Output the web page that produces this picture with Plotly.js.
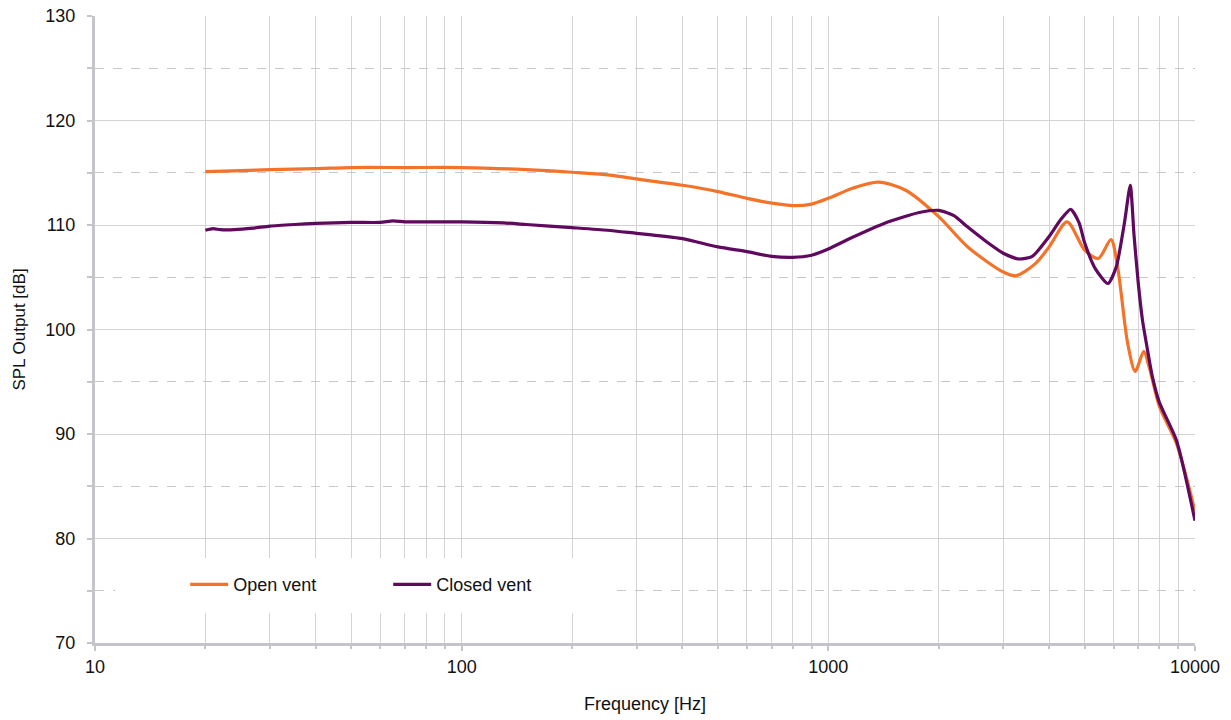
<!DOCTYPE html>
<html>
<head>
<meta charset="utf-8">
<script src="https://cdn.plot.ly/plotly-3.0.1.min.js"></script>
<style>
  html, body { margin: 0; padding: 0; background: #ffffff; }
  #chart { width: 1231px; height: 720px; }
</style>
</head>
<body>
<div id="chart"></div>
<script>
// Open vent
const openFreq = [20, 25, 30, 40, 50, 70, 100, 150, 200, 250, 330, 400, 500, 600, 700, 800, 900, 1000, 1160, 1370, 1620, 2000, 2400, 3000, 3250, 3670, 4000, 4480, 5000, 5450, 5900, 6150, 6550, 6870, 7250, 7500, 8000, 8900, 10000];
const openSPL  = [115.1, 115.2, 115.3, 115.4, 115.5, 115.5, 115.5, 115.3, 115.05, 114.8, 114.2, 113.8, 113.2, 112.55, 112.1, 111.85, 112.0, 112.55, 113.5, 114.1, 113.35, 110.8, 107.9, 105.5, 105.15, 106.3, 107.9, 110.3, 107.6, 106.8, 108.6, 106.0, 98.7, 96.0, 97.9, 96.4, 92.6, 89.1, 82.6];

// Closed vent
const closedFreq = [20, 21, 22, 24, 27, 30, 35, 40, 50, 60, 65, 70, 80, 100, 130, 150, 200, 250, 300, 330, 400, 500, 600, 700, 800, 900, 1000, 1160, 1430, 1770, 2000, 2200, 2400, 2700, 3000, 3300, 3600, 4000, 4300, 4580, 4830, 5000, 5350, 5790, 6100, 6420, 6660, 6820, 7000, 7190, 7400, 7640, 8000, 8900, 10000];
const closedSPL  = [109.5, 109.65, 109.55, 109.55, 109.7, 109.9, 110.05, 110.15, 110.25, 110.25, 110.4, 110.3, 110.3, 110.3, 110.2, 110.05, 109.75, 109.5, 109.2, 109.05, 108.7, 107.9, 107.45, 107.0, 106.9, 107.1, 107.7, 108.8, 110.2, 111.2, 111.4, 110.9, 109.8, 108.4, 107.3, 106.75, 107.0, 108.9, 110.5, 111.5, 110.2, 108.3, 105.8, 104.4, 106.0, 110.2, 113.8, 109.0, 104.5, 100.9, 98.3, 95.6, 93.0, 89.4, 81.7];

// Axis ticks
const xTickVals = [10, 100, 1000, 10000];
const xTickText = ['10', '100', '1000', '10000'];

const seriesNames = ['Open vent', 'Closed vent'];
const seriesColors = ['#f4732a', '#5f0a5f'];

const FONT = 'Liberation Sans, Arial, sans-serif';
const axisGray = '#c3c5cb';
const gridGray = '#d3d3d6';

const traces = [
  {
    x: openFreq, y: openSPL, name: seriesNames[0], type: 'scatter', mode: 'lines',
    line: { color: seriesColors[0], width: 3.2, shape: 'spline', smoothing: 0.8 }
  },
  {
    x: closedFreq, y: closedSPL, name: seriesNames[1], type: 'scatter', mode: 'lines',
    line: { color: seriesColors[1], width: 3.2, shape: 'spline', smoothing: 0.6 }
  }
];

const layout = {
  width: 1231, height: 720,
  margin: { l: 95, r: 36, t: 16, b: 77 },
  paper_bgcolor: '#ffffff', plot_bgcolor: '#ffffff',
  font: { family: FONT, size: 18, color: '#111111' },
  showlegend: true,
  legend: {
    orientation: 'h', x: 0.082, y: 0.093, xanchor: 'left', yanchor: 'middle',
    bgcolor: 'rgba(255,255,255,0)', borderwidth: 0,
    font: { family: FONT, size: 18, color: '#111111' },
    entrywidth: 150, entrywidthmode: 'pixels', itemwidth: 38
  },
  xaxis: {
    type: 'log', range: [1, 4],
    tickvals: xTickVals, ticktext: xTickText,
    ticks: 'outside', ticklen: 5, tickwidth: 2, tickcolor: axisGray,
    showline: true, linecolor: axisGray, linewidth: 3,
    showgrid: true, gridcolor: gridGray, gridwidth: 1,
    minor: { dtick: 'D1', ticks: 'outside', ticklen: 3, tickcolor: axisGray, showgrid: true, gridcolor: gridGray, gridwidth: 1 },
    zeroline: false,
    tickfont: { family: FONT, size: 18, color: '#111111' },
    title: { text: 'Frequency [Hz]', font: { family: FONT, size: 18, color: '#111111' }, standoff: 22 }
  },
  yaxis: {
    range: [70, 130], dtick: 10, tick0: 70,
    ticks: 'outside', ticklen: 5, tickwidth: 2, tickcolor: axisGray,
    showline: true, linecolor: axisGray, linewidth: 3,
    showgrid: true, gridcolor: gridGray, gridwidth: 1,
    minor: { dtick: 5, ticks: 'outside', ticklen: 5, tickcolor: axisGray, showgrid: true, gridcolor: '#c8c8cc', griddash: 'dash', gridwidth: 1 },
    zeroline: false,
    tickfont: { family: FONT, size: 18, color: '#111111' },
    ticklabelstandoff: 8,
    title: { text: 'SPL Output [dB]', font: { family: FONT, size: 17, color: '#111111' }, standoff: 16 }
  },
  shapes: [
    {
      type: 'rect', xref: 'paper', yref: 'paper', layer: 'above',
      x0: 0.0182, x1: 0.468, y0: 0.0478, y1: 0.1356,
      fillcolor: '#ffffff', line: { width: 0 }
    }
  ]
};

Plotly.newPlot('chart', traces, layout, { staticPlot: true, displayModeBar: false });
</script>
</body>
</html>
